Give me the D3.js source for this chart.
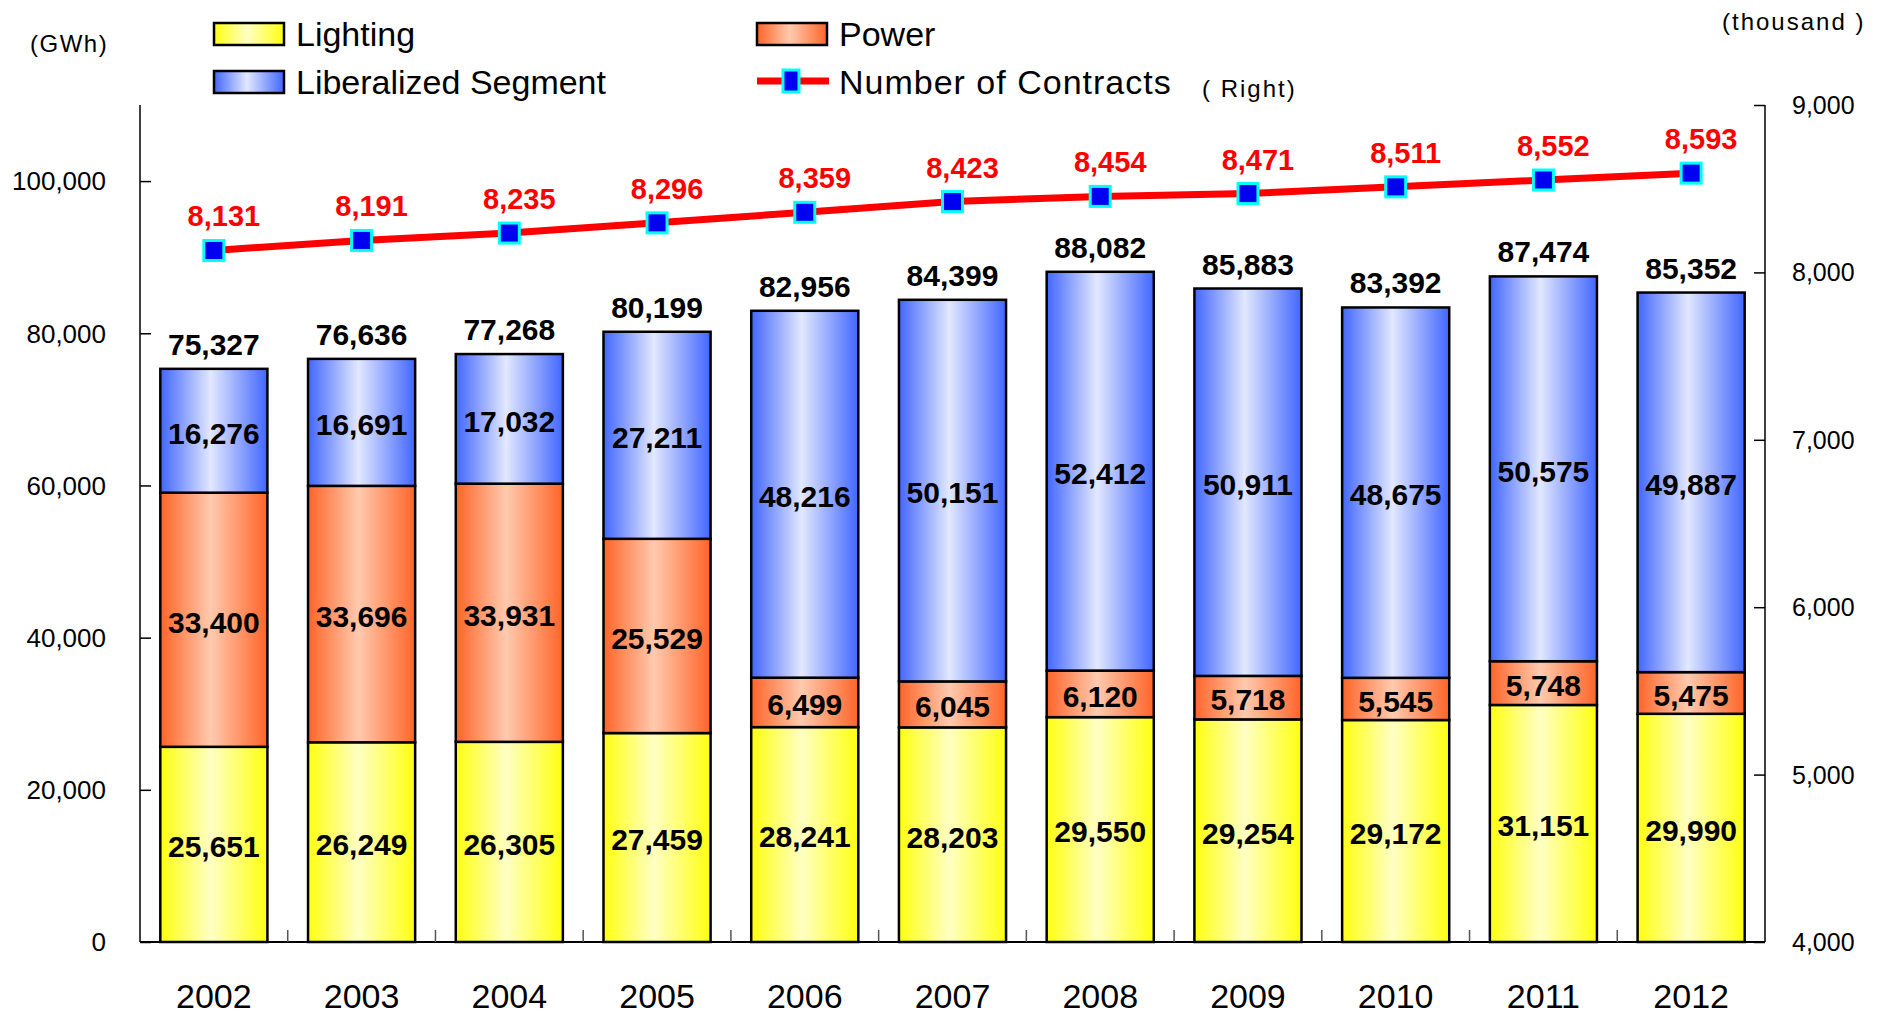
<!DOCTYPE html>
<html><head><meta charset="utf-8">
<script src="https://cdn.jsdelivr.net/npm/d3@7"></script>
<style>body{margin:0;background:#fff;} text{font-family:"Liberation Sans",Arial,sans-serif;}</style>
</head><body>
<svg id="c" width="1881" height="1015"></svg>
<script>
const years = ["2002","2003","2004","2005","2006","2007","2008","2009","2010","2011","2012"];
const lighting = [25651,26249,26305,27459,28241,28203,29550,29254,29172,31151,29990];
const power = [33400,33696,33931,25529,6499,6045,6120,5718,5545,5748,5475];
const liberalized = [16276,16691,17032,27211,48216,50151,52412,50911,48675,50575,49887];
const totals = [75327,76636,77268,80199,82956,84399,88082,85883,83392,87474,85352];
const contracts = [8131,8191,8235,8296,8359,8423,8454,8471,8511,8552,8593];
const leftTicks = [0,20000,40000,60000,80000,100000];
const rightTicks = [4000,5000,6000,7000,8000,9000];

const svg = d3.select("#c");
const L = 140, R = 1765, T = 105, B = 942;
const x = d3.scaleBand().domain(years).range([L, R]).paddingInner(0.275).paddingOuter(0.1375);
const xb = d3.scaleBand().domain(years).range([L, R]);
const y = d3.scaleLinear().domain([0,110000]).range([B, T]);
const y2 = d3.scaleLinear().domain([4000,9000]).range([B, T]);
const fmt = d3.format(",");

const defs = svg.append("defs");
function grad(id, edge, light){
  const g = defs.append("linearGradient").attr("id", id).attr("x1","0%").attr("x2","100%").attr("y1","0%").attr("y2","0%");
  g.append("stop").attr("offset","0%").attr("stop-color", edge);
  g.append("stop").attr("offset","47%").attr("stop-color", light);
  g.append("stop").attr("offset","100%").attr("stop-color", edge);
}
grad("gY", "#ffff10", "#ffffc4");
grad("gP", "#ff6428", "#ffcaae");
grad("gB", "#4166ff", "#e2e8ff");

const series = [
  {name:"Lighting", vals: lighting, fill:"url(#gY)"},
  {name:"Power", vals: power, fill:"url(#gP)"},
  {name:"Liberalized Segment", vals: liberalized, fill:"url(#gB)"}
];
const stackData = years.map((yr,i)=>({year:yr, Lighting:lighting[i], Power:power[i], "Liberalized Segment":liberalized[i]}));
const stack = d3.stack().keys(series.map(s=>s.name))(stackData);

// bars
stack.forEach((layer, si) => {
  const g = svg.append("g");
  g.selectAll("rect").data(layer).join("rect")
    .attr("x", d => x(d.data.year))
    .attr("width", x.bandwidth())
    .attr("y", d => y(d[1]))
    .attr("height", d => y(d[0]) - y(d[1]))
    .attr("fill", series[si].fill)
    .attr("stroke", "#000").attr("stroke-width", 2.5);
  g.selectAll("text").data(layer).join("text")
    .attr("x", d => x(d.data.year) + x.bandwidth()/2)
    .attr("y", d => (y(d[0]) + y(d[1]))/2 + 2)
    .attr("dy", "0.36em")
    .attr("text-anchor","middle")
    .attr("font-size", 30).attr("font-weight","bold")
    .text((d,i) => fmt(series[si].vals[i]));
});

// totals
svg.append("g").selectAll("text").data(years).join("text")
  .attr("x", d => x(d) + x.bandwidth()/2)
  .attr("y", (d,i) => y(totals[i]) - 14)
  .attr("text-anchor","middle").attr("font-size", 30).attr("font-weight","bold")
  .text((d,i)=>fmt(totals[i]));

// axes
const axL = svg.append("g").attr("transform",`translate(${L},0)`)
  .call(d3.axisRight(y).tickValues(leftTicks).tickSize(11).tickFormat(""));
axL.select(".domain").attr("d", `M0,${T}V${B}`).attr("stroke","#000").attr("stroke-width",1.5);
axL.selectAll(".tick line").attr("stroke","#000").attr("stroke-width",1.5);
svg.append("g").selectAll("text").data(leftTicks).join("text")
  .attr("x", 106).attr("y", d=>y(d)).attr("dy","0.36em").attr("text-anchor","end")
  .attr("font-size", 26).text(d=>fmt(d));

const axR = svg.append("g").attr("transform",`translate(${R},0)`)
  .call(d3.axisLeft(y2).tickValues(rightTicks).tickSize(11).tickFormat(""));
axR.select(".domain").attr("d", `M0,${T}V${B}`).attr("stroke","#000").attr("stroke-width",1.5);
axR.selectAll(".tick line").attr("stroke","#000").attr("stroke-width",1.5);
svg.append("g").selectAll("text").data(rightTicks).join("text")
  .attr("x", 1792).attr("y", d=>y2(d)).attr("dy","0.36em").attr("text-anchor","start")
  .attr("font-size", 25).text(d=>fmt(d));

// x axis
svg.append("line").attr("x1",L).attr("x2",R).attr("y1",B).attr("y2",B).attr("stroke","#000").attr("stroke-width",2);
svg.append("g").selectAll("line").data(years.slice(1)).join("line")
  .attr("x1", d=>xb(d)).attr("x2", d=>xb(d)).attr("y1", B).attr("y2", B-12)
  .attr("stroke","#555").attr("stroke-width",1.5);
svg.append("g").selectAll("text").data(years).join("text")
  .attr("x", d => xb(d) + xb.bandwidth()/2).attr("y", 1008)
  .attr("text-anchor","middle").attr("font-size", 34).text(d=>d);

// line
const line = d3.line().x((d,i)=>xb(years[i]) + xb.bandwidth()/2).y(d=>y2(d));
svg.append("path").datum(contracts).attr("d", line).attr("fill","none").attr("stroke","#ff0000").attr("stroke-width",7);
svg.append("g").selectAll("rect").data(contracts).join("rect")
  .attr("x",(d,i)=>xb(years[i]) + xb.bandwidth()/2 - 10).attr("y", d=>y2(d)-10)
  .attr("width",20).attr("height",20).attr("fill","#0000f0").attr("stroke","#00ffff").attr("stroke-width",3);
svg.append("g").selectAll("text").data(contracts).join("text")
  .attr("x",(d,i)=>xb(years[i]) + xb.bandwidth()/2 + 10).attr("y", d=>y2(d)-24)
  .attr("text-anchor","middle").attr("font-size",29).attr("font-weight","bold").attr("fill","#ff0000")
  .text(d=>fmt(d));

// unit labels
svg.append("text").attr("x",30).attr("y",52).attr("font-size",24).attr("letter-spacing",1.5).text("(GWh)");
svg.append("text").attr("x",1722).attr("y",30).attr("font-size",24).attr("letter-spacing",2).text("(thousand )");

// legend
const leg = [
  {label:"Lighting", fill:"url(#gY)", x:214, y:34},
  {label:"Power", fill:"url(#gP)", x:757, y:34},
  {label:"Liberalized Segment", fill:"url(#gB)", x:214, y:82}
];
leg.forEach(l=>{
  svg.append("rect").attr("x",l.x).attr("y",l.y-11).attr("width",70).attr("height",22)
    .attr("fill",l.fill).attr("stroke","#000").attr("stroke-width",2.5);
  svg.append("text").attr("x",l.x+82).attr("y",l.y).attr("dy","0.36em").attr("font-size",34).text(l.label);
});
svg.append("line").attr("x1",757).attr("x2",829).attr("y1",81).attr("y2",81).attr("stroke","#ff0000").attr("stroke-width",7);
svg.append("rect").attr("x",783).attr("y",70).attr("width",16).attr("height",22).attr("fill","#0000f0").attr("stroke","#00ffff").attr("stroke-width",3);
svg.append("text").attr("x",839).attr("y",82).attr("dy","0.36em").attr("font-size",34).attr("letter-spacing",1).text("Number of Contracts");
svg.append("text").attr("x",1202).attr("y",88).attr("dy","0.36em").attr("font-size",24).attr("letter-spacing",2).text("( Right)");
</script>
</body></html>
